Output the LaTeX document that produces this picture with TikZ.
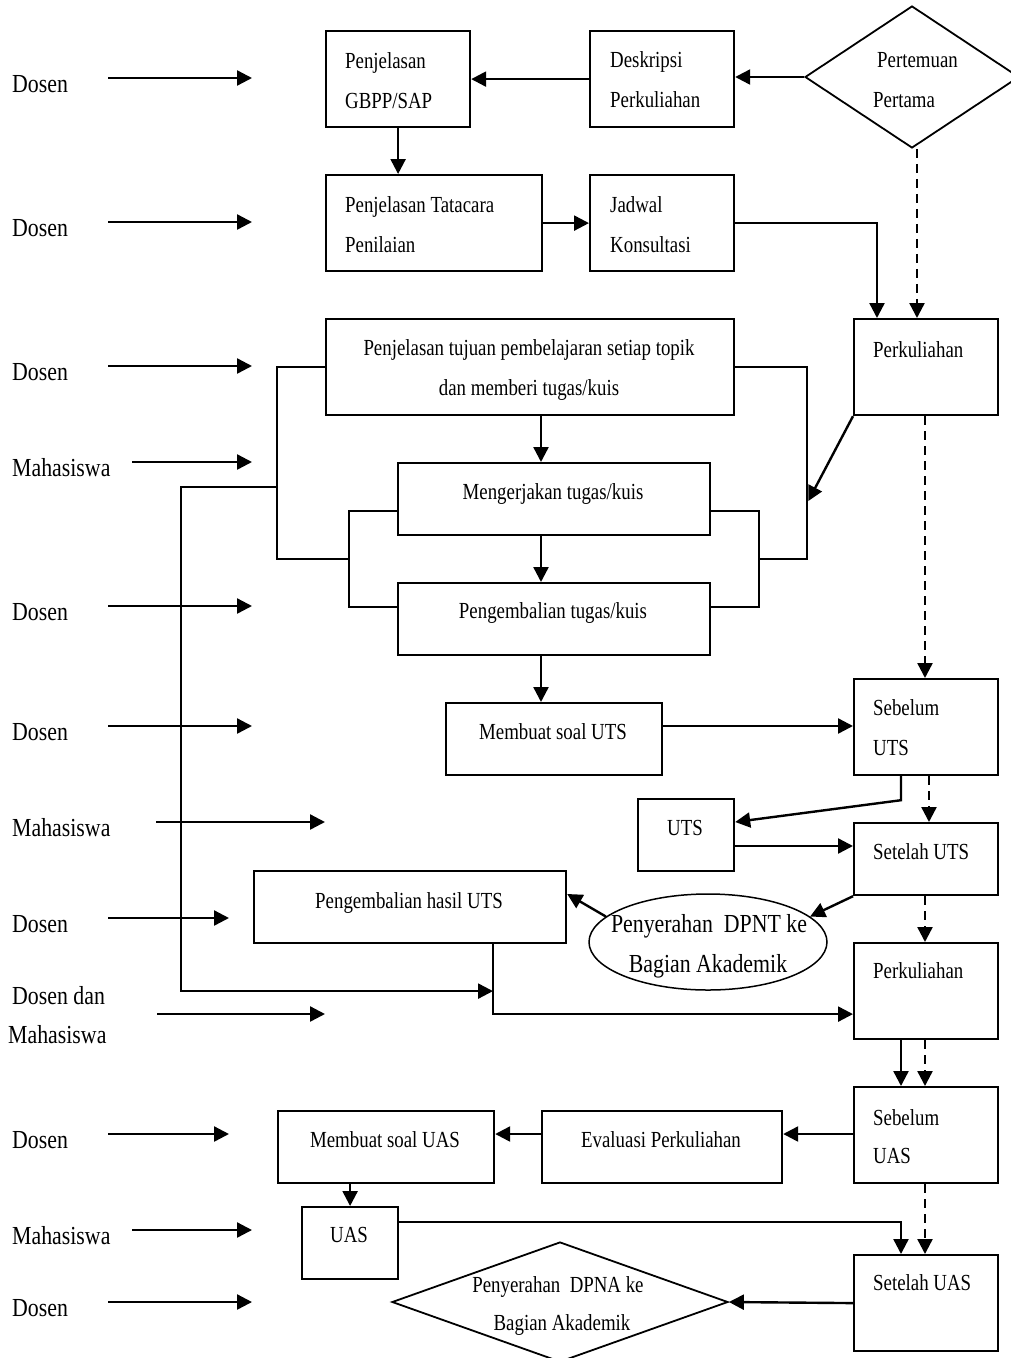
\documentclass[tikz,border=0pt]{standalone}
\usepackage{fontspec}
\newfontfamily\boxfont{Liberation Serif}[FakeStretch=0.82]
\newfontfamily\labfont{Liberation Serif}[FakeStretch=0.84]
\usetikzlibrary{arrows.meta,shapes.geometric,calc}
\begin{document}
\begin{tikzpicture}[x=1pt,y=-1pt,
 box/.style={draw, line width=2.2pt, rectangle, inner sep=0pt, anchor=north west},
 conn/.style={line width=2.4pt, -{Triangle[length=15pt,width=15pt]}},
 dconn/.style={conn, dash pattern=on 9pt off 6pt},
 plain/.style={line width=2.2pt},
 txt/.style={font=\boxfont\fontsize{23}{27}\selectfont, inner sep=0pt},
 lab/.style={font=\labfont\fontsize{26}{30}\selectfont, inner sep=0pt},
]
\useasboundingbox (0,0) rectangle (1011,1358);

% ---------- shapes ----------
\node[draw, diamond, line width=1.8pt, minimum width=214pt, minimum height=142pt, inner sep=0pt] (pp) at (912,77) {};
\node[box, minimum width=144pt, minimum height=96pt] (desk) at (589,30) {};
\node[box, minimum width=144pt, minimum height=96pt] (gbpp) at (325,30) {};
\node[box, minimum width=216pt, minimum height=96pt] (tata) at (325,174) {};
\node[box, minimum width=144pt, minimum height=96pt] (jadwal) at (589,174) {};
\node[box, minimum width=144pt, minimum height=96pt] (perk1) at (853,318) {};
\node[box, minimum width=408pt, minimum height=96pt] (tuj) at (325,318) {};
\node[box, minimum width=312pt, minimum height=72pt] (meng) at (397,462) {};
\node[box, minimum width=312pt, minimum height=72pt] (peng) at (397,582) {};
\node[box, minimum width=216pt, minimum height=72pt] (muts) at (445,702) {};
\node[box, minimum width=144pt, minimum height=96pt] (suts) at (853,678) {};
\node[box, minimum width=96pt, minimum height=72pt] (uts) at (637,798) {};
\node[box, minimum width=144pt, minimum height=72pt] (stuts) at (853,822) {};
\node[draw, ellipse, line width=1.5pt, minimum width=238pt, minimum height=96pt, inner sep=0pt] (dpnt) at (708,942) {};
\node[box, minimum width=312pt, minimum height=72pt] (hasil) at (253,870) {};
\node[box, minimum width=144pt, minimum height=96pt] (perk2) at (853,942) {};
\node[box, minimum width=144pt, minimum height=96pt] (suas) at (853,1086) {};
\node[box, minimum width=240pt, minimum height=72pt] (eval) at (541,1110) {};
\node[box, minimum width=216pt, minimum height=72pt] (muas) at (277,1110) {};
\node[box, minimum width=96pt, minimum height=72pt] (uas) at (301,1206) {};
\node[box, minimum width=144pt, minimum height=96pt] (stuas) at (853,1254) {};
\node[draw, diamond, line width=1.8pt, minimum width=336pt, minimum height=120pt, inner sep=0pt] (dpna) at (560,1302) {};

% ---------- texts ----------
\node[txt, anchor=base west] (tpp1) at (877,67) {Pertemuan};
\node[txt, anchor=base west] (tpp2) at (873,107) {Pertama};
\node[txt, anchor=base west] (tdesk1) at (610,67) {Deskripsi};
\node[txt, anchor=base west] (tdesk2) at (610,107) {Perkuliahan};
\node[txt, anchor=base west] (tgbpp1) at (345,68) {Penjelasan};
\node[txt, anchor=base west] (tgbpp2) at (345,108) {GBPP/SAP};
\node[txt, anchor=base west] (ttata1) at (345,212) {Penjelasan Tatacara};
\node[txt, anchor=base west] (ttata2) at (345,252) {Penilaian};
\node[txt, anchor=base west] (tjad1) at (610,212) {Jadwal};
\node[txt, anchor=base west] (tjad2) at (610,252) {Konsultasi};
\node[txt, anchor=base west] (tperk1) at (873,357) {Perkuliahan};
\node[txt, anchor=base] (ttuj1) at (529,355) {Penjelasan tujuan pembelajaran setiap topik};
\node[txt, anchor=base] (ttuj2) at (529,395) {dan memberi tugas/kuis};
\node[txt, anchor=base] (tmeng) at (553,499) {Mengerjakan tugas/kuis};
\node[txt, anchor=base] (tpeng) at (553,618) {Pengembalian tugas/kuis};
\node[txt, anchor=base] (tmuts) at (553,739) {Membuat soal UTS};
\node[txt, anchor=base west] (tsuts1) at (873,715) {Sebelum};
\node[txt, anchor=base west] (tsuts2) at (873,755) {UTS};
\node[txt, anchor=base] (tuts) at (685,835) {UTS};
\node[txt, anchor=base west] (tstuts) at (873,859) {Setelah UTS};
\node[lab, anchor=base] (tdpnt1) at (709,932) {Penyerahan\ \ DPNT ke};
\node[lab, anchor=base] (tdpnt2) at (708,972) {Bagian Akademik};
\node[txt, anchor=base] (thasil) at (409,908) {Pengembalian hasil UTS};
\node[txt, anchor=base west] (tperk2) at (873,978) {Perkuliahan};
\node[txt, anchor=base west] (tsuas1) at (873,1125) {Sebelum};
\node[txt, anchor=base west] (tsuas2) at (873,1163) {UAS};
\node[txt, anchor=base] (tmuas) at (385,1147) {Membuat soal UAS};
\node[txt, anchor=base] (teval) at (661,1147) {Evaluasi Perkuliahan};
\node[txt, anchor=base] (tuas) at (349,1242) {UAS};
\node[txt, anchor=base west] (tstuas) at (873,1290) {Setelah UAS};
\node[txt, anchor=base] (tdpna1) at (558,1292) {Penyerahan\ \ DPNA ke};
\node[txt, anchor=base] (tdpna2) at (562,1330) {Bagian Akademik};

% ---------- left role labels ----------
\foreach \i/\ya/\xa/\xb/\lbl in {1/78/108/252/Dosen, 2/222/108/252/Dosen, 3/366/108/252/Dosen, 4/462/132/252/Mahasiswa, 5/606/108/252/Dosen, 6/726/108/252/Dosen, 7/822/156/325/Mahasiswa, 8/918/108/229/Dosen, 10/1134/108/229/Dosen, 11/1230/132/252/Mahasiswa, 12/1302/108/252/Dosen}{
  \node[lab, anchor=base west] (lab\i) at (12,\ya+14) {\lbl};
  \coordinate (as\i) at (\xa,\ya);
  \coordinate (ae\i) at (\xb,\ya);
  \draw[conn] (as\i) -- (ae\i);
}
\node[lab, anchor=base west] (lab9a) at (12,1004) {Dosen dan};
\node[lab, anchor=base west] (lab9b) at (8,1043) {Mahasiswa};
\coordinate (as9) at (157,1014);
\coordinate (ae9) at (325,1014);
\draw[conn] (as9) -- (ae9);

% ---------- column helpers ----------
\coordinate (ax) at (541,0);
\coordinate (sx) at (901,0);
\coordinate (dx) at (925,0);
\coordinate (dx2) at (929,0);
\coordinate (ppb) at ($(pp.south)+(5,0)$);

% ---------- connectors, top ----------
\draw[conn] (pp.west) -- (pp.west -| desk.east);
\draw[conn] (desk.west) -- (gbpp.east);
\draw[conn] (gbpp.south) -- (tata.north -| gbpp.south);
\draw[conn] (tata.east) -- (jadwal.west);
\draw[conn] (jadwal.east) -| ($(perk1.north west)+(24,0)$);
\draw[dconn] (ppb) -- (ppb |- perk1.north);

% ---------- middle block ----------
\draw[plain] (tuj.west) -- ++(-48,0) -- ++(0,192) -- ++(72,0);
\draw[plain] ($(meng.west)+(0,12)$) -- ++(-48,0) -- ++(0,96) -- ($(peng.west)+(0,-12)$);
\draw[plain] (tuj.east) -- ++(72,0) -- ++(0,192) -- ++(-48,0);
\draw[plain] ($(meng.east)+(0,12)$) -- ++(48,0) -- ++(0,96) -- ($(peng.east)+(0,-12)$);
\coordinate (brR) at ($(tuj.east)+(73,134)$);
\draw[conn] (perk1.south west) -- (brR);
\draw[conn] (tuj.south -| ax) -- (meng.north -| ax);
\draw[conn] (meng.south -| ax) -- (peng.north -| ax);
\draw[conn] (peng.south -| ax) -- (muts.north -| ax);
\draw[dconn] (perk1.south -| dx) -- (suts.north -| dx);

% ---------- UTS block ----------
\draw[conn] (muts.east |- 0,726) -- (suts.west |- 0,726);
\draw[conn] (suts.south -| sx) -- ++(0,24) -- ($(uts.north east)+(0,24)$);
\draw[dconn] (suts.south -| dx2) -- (stuts.north -| dx2);
\draw[conn] (uts.east |- 0,846) -- (stuts.west |- 0,846);
\draw[conn] (stuts.south west) -- (dpnt.14);
\draw[conn] (dpnt.166) -- ($(hasil.north east)+(0,24)$);
\draw[dconn] (stuts.south -| dx) -- (perk2.north -| dx);
\coordinate (hj) at ($(hasil.south west)+(240,0)$);
\draw[conn] (hj) |- ($(perk2.west)+(0,23)$);
\coordinate (fb) at ($(tuj.west)+(-48,120)$);
\draw[conn] (fb) -- ++(-96,0) |- (hj |- perk2.west);

% ---------- UAS block ----------
\draw[conn] (perk2.south -| sx) -- (suas.north -| sx);
\draw[dconn] (perk2.south -| dx) -- (suas.north -| dx);
\draw[conn] (suas.west |- 0,1134) -- (eval.east |- 0,1134);
\draw[conn] (eval.west |- 0,1134) -- (muas.east |- 0,1134);
\draw[conn] (uas.north |- muas.south) -- (uas.north);
\draw[conn] (uas.east |- 0,1222) -| (stuas.north -| sx);
\draw[dconn] (suas.south -| dx) -- (stuas.north -| dx);
\draw[conn] (stuas.west) -- (dpna.east);
\end{tikzpicture}
\end{document}
